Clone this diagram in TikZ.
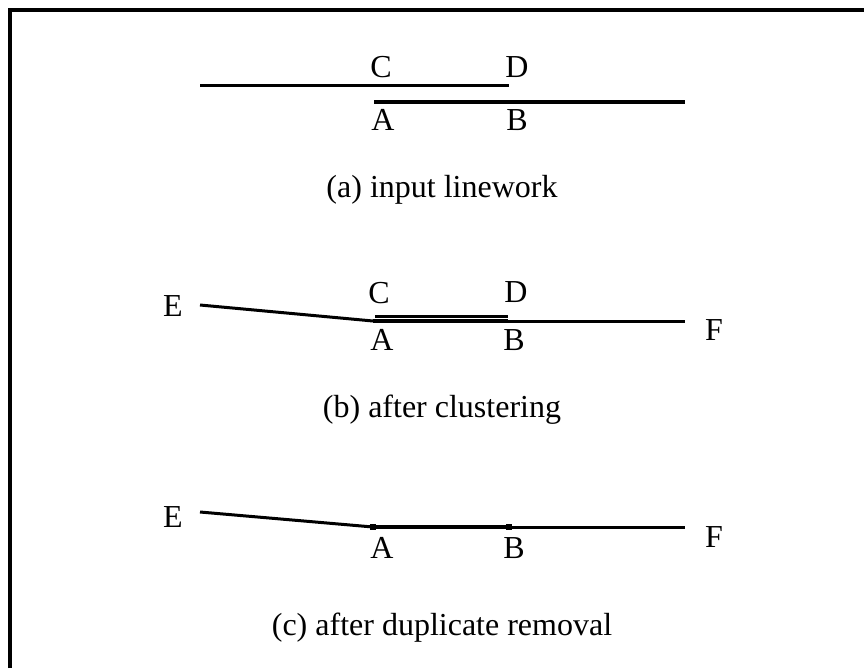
\documentclass[tikz,border=0pt]{standalone}
\usepackage{fontspec}
\setmainfont{Liberation Serif}
\usetikzlibrary{positioning}

\begin{document}
\begin{tikzpicture}[x=0.75pt,y=-0.75pt,
  lbl/.style={inner sep=0pt,font=\fontsize{24}{28}\selectfont},
  capt/.style={inner sep=0pt,anchor=base,font=\fontsize{24}{28}\selectfont},
  seg/.style={line width=2.25pt},
  heavyseg/.style={line width=3pt},
  vtx/.style={rectangle,fill=black,inner sep=0pt,minimum size=4.5pt}]
  \useasboundingbox (0,0) rectangle (864,668);
  % frame
  \draw[line width=3pt] (10,668) -- (10,10) -- (864,10);

  % (a) input linework
  \coordinate (a-c) at (200,85);
  \coordinate (a-d) at (509,85);
  \coordinate (a-a) at (374,102);
  \coordinate (a-e) at (685,102);
  \draw[seg] (a-c) -- (a-d);
  \draw[heavyseg] (a-a) -- (a-e);
  \node[lbl] (la-C) at (381,67) {C};
  \node[lbl] (la-D) at (517,67) {D};
  \node[lbl] (la-A) at (383,120) {A};
  \node[lbl] (la-B) at (517,120) {B};
  \node[capt] (cap-a) at (442,197) {(a) input linework};

  % (b) after clustering
  \coordinate (b-e) at (200,305);
  \coordinate (b-a) at (373,321);
  \coordinate (b-b) at (508,321);
  \coordinate (b-f) at (685,321);
  \coordinate (b-c) at (375,316);
  \coordinate (b-d) at (508,316);
  \draw[seg] (b-e) -- (b-a);
  \draw[heavyseg] (b-a) -- (b-b);
  \draw[seg] (b-b) -- (b-f);
  \draw[seg] (b-c) -- (b-d);
  \node[lbl] (lb-E) at (173,306) {E};
  \node[lbl] (lb-C) at (379,293) {C};
  \node[lbl] (lb-D) at (516,292) {D};
  \node[lbl] (lb-A) at (382,340) {A};
  \node[lbl] (lb-B) at (514,340) {B};
  \node[lbl] (lb-F) at (714,330) {F};
  \node[capt] (cap-b) at (442,417) {(b) after clustering};

  % (c) after duplicate removal
  \coordinate (c-e) at (200,512);
  \coordinate (c-a) at (373,527);
  \coordinate (c-b) at (509,527);
  \coordinate (c-f) at (685,527);
  \draw[seg] (c-e) -- (c-a);
  \draw[heavyseg] (c-a) -- (c-b);
  \draw[seg] (c-b) -- (c-f);
  \node[vtx] (vA) at (c-a) {};
  \node[vtx] (vB) at (c-b) {};
  \node[lbl] (lc-E) at (173,517) {E};
  \node[lbl] (lc-A) at (382,548) {A};
  \node[lbl] (lc-B) at (514,548) {B};
  \node[lbl] (lc-F) at (714,537) {F};
  \node[capt] (cap-c) at (442,635) {(c) after duplicate removal};
\end{tikzpicture}
\end{document}
